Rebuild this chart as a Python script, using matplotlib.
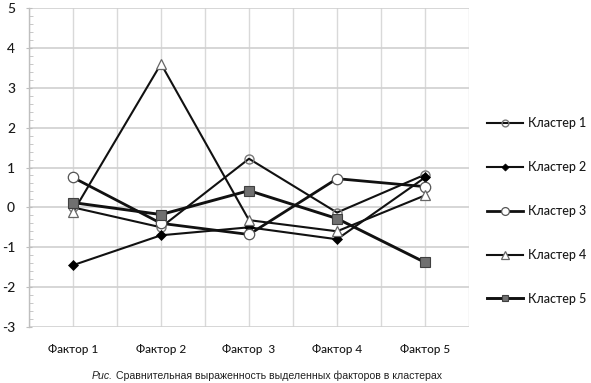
import matplotlib
matplotlib.use("Agg")
import matplotlib.pyplot as plt
import numpy as np

categories = ["Фактор 1", "Фактор 2", "Фактор  3", "Фактор 4", "Фактор 5"]
series_names = ["Кластер 1", "Кластер 2", "Кластер 3", "Кластер 4", "Кластер 5"]
cluster1 = [0.0, -0.5, 1.22, -0.13, 0.82]
cluster2 = [-1.45, -0.7, -0.5, -0.8, 0.75]
cluster3 = [0.75, -0.4, -0.68, 0.72, 0.52]
cluster4 = [-0.12, 3.6, -0.32, -0.6, 0.3]
cluster5 = [0.12, -0.18, 0.42, -0.28, -1.38]
y_ticks = [-3, -2, -1, 0, 1, 2, 3, 4, 5]

W, H = 591, 383
fig = plt.figure(figsize=(W / 100, H / 100), dpi=100)
ax = fig.add_axes([29 / W, 1 - 327 / H, (469 - 29) / W, (327 - 8) / H])

x = np.arange(len(categories))
styles = [
    dict(marker="o", ms=6.5, mfc="none", mec="#777777", mew=1.0, lw=1.5, color="#111111"),
    dict(marker="D", ms=4.8, mfc="black", mec="black", mew=0.5, lw=1.5, color="#111111"),
    dict(marker="o", ms=7.5, mfc="white", mec="#555555", mew=0.9, lw=2.0, color="#111111"),
    dict(marker="^", ms=7.5, mfc="white", mec="#666666", mew=0.9, lw=1.5, color="#111111"),
    dict(marker="s", ms=6.5, mfc="#707070", mec="#404040", mew=0.8, lw=2.1, color="#111111"),
]
data = [cluster1, cluster2, cluster3, cluster4, cluster5]
order = [4, 1, 3, 0, 2]
lines = {}
for i in order:
    (ln,) = ax.plot(x, data[i], label=series_names[i], zorder=3 + i * 0.1, **styles[i])
    lines[i] = ln

ax.set_xlim(-0.5, len(categories) - 0.5)
ax.set_ylim(-3, 5)
ax.set_yticks(y_ticks)
ax.set_yticklabels([str(v) for v in y_ticks])
ax.set_yticks(np.arange(-3, 5.01, 0.2), minor=True)
ax.set_xticks(x)
ax.set_xticklabels(categories)
ax.set_xticks(np.arange(-0.5, len(categories), 1.0), minor=True)

for s in ["top", "right", "bottom"]:
    ax.spines[s].set_visible(False)
ax.spines["left"].set_color("#bfbfbf")
ax.spines["left"].set_linewidth(1.0)

ax.grid(True, which="major", axis="y", color="#d0d0d0", lw=1.2, zorder=0)
ax.grid(True, which="both", axis="x", color="#d9d9d9", lw=1.0, zorder=0)
ax.set_axisbelow(True)

ax.tick_params(axis="y", which="major", length=4, direction="inout", color="#bfbfbf",
               labelsize=10, pad=8, labelcolor="#1a1a1a")
ax.tick_params(axis="y", which="minor", length=3, direction="in", color="#bfbfbf")
ax.tick_params(axis="x", which="both", length=0, labelsize=8.5, pad=12, labelcolor="#1a1a1a")
for t in ax.get_xticklabels() + ax.get_yticklabels():
    t.set_fontfamily(["Lato", "DejaVu Sans"])
    t.set_fontweight("medium")

handles = [lines[i] for i in range(5)]
leg = fig.legend(handles, series_names, loc="center left",
                 bbox_to_anchor=(487 / W, 1 - 211 / H), frameon=False,
                 borderpad=0, borderaxespad=0, labelspacing=2.55,
                 handlelength=2.9, handletextpad=0.4, markerscale=0.75,
                 prop={"family": ["Lato", "DejaVu Sans"], "size": 9, "weight": "medium"})
for t in leg.get_texts():
    t.set_color("#1a1a1a")

fig.text(113 / W, 1 - 376 / H, "Рис.", ha="right", va="center", fontsize=7.6,
         style="italic", family=["Liberation Sans", "DejaVu Sans"], color="#222222")
fig.text(116 / W, 1 - 376 / H, "Сравнительная выраженность выделенных факторов в кластерах",
         ha="left", va="center", fontsize=7.6,
         family=["Liberation Sans", "DejaVu Sans"], color="#222222")

fig.savefig("out.png", dpi=100, facecolor="white")
